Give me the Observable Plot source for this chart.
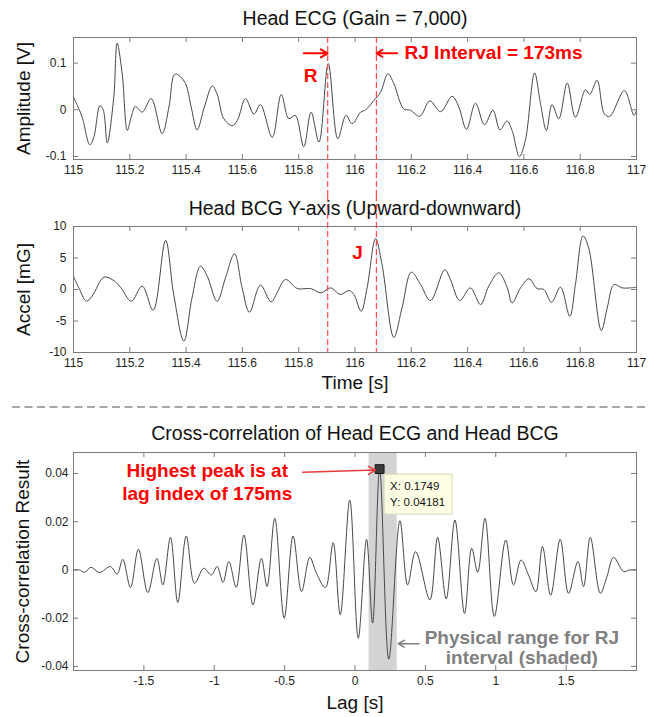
<!DOCTYPE html>
<html>
<head>
<meta charset="utf-8">
<script src="https://cdn.jsdelivr.net/npm/d3@7"></script>
<script src="https://cdn.jsdelivr.net/npm/@observablehq/plot@0.6"></script>
<style>
  html, body { margin: 0; padding: 0; background: #ffffff; }
  #chart { position: relative; width: 656px; height: 717px; overflow: hidden; background: #ffffff; }
  #chart > div { position: absolute; left: 0; }
</style>
</head>
<body>
<div id="chart"></div>
<script>
// ---------------- data ----------------
const ecgTime = [115.000,115.014,115.031,115.058,115.072,115.094,115.106,115.120,115.143,115.155,115.173,115.191,115.205,115.220,115.244,115.276,115.315,115.339,115.359,115.374,115.398,115.418,115.439,115.465,115.493,115.510,115.534,115.564,115.582,115.611,115.641,115.664,115.706,115.738,115.765,115.788,115.818,115.844,115.872,115.905,115.939,115.968,115.990,116.020,116.038,116.067,116.091,116.117,116.138,116.173,116.197,116.230,116.266,116.304,116.345,116.369,116.396,116.428,116.460,116.490,116.515,116.540,116.558,116.584,116.605,116.638,116.659,116.680,116.700,116.724,116.754,116.783,116.819,116.834,116.860,116.886,116.905,116.957,116.991,117.000];
const ecgAmplitude = [0.027,0.009,-0.016,-0.075,-0.059,0.009,-0.001,-0.071,0.027,0.143,0.077,-0.044,-0.016,0.007,-0.005,0.024,-0.051,0.006,0.076,0.074,0.056,0.006,-0.043,0.006,0.051,0.034,-0.019,-0.034,-0.023,0.024,-0.009,0.011,-0.059,0.033,-0.019,-0.012,-0.079,-0.005,-0.069,0.099,-0.062,-0.012,-0.030,-0.005,0.000,0.020,0.038,0.077,0.056,0.002,-0.001,-0.014,0.019,-0.004,0.029,0.006,-0.042,0.014,-0.032,-0.001,-0.043,-0.024,-0.044,-0.100,-0.066,0.079,0.013,-0.044,0.011,-0.019,0.057,-0.016,0.043,0.033,0.063,-0.009,-0.014,0.041,-0.012,-0.001];

const bcgTime = [115.000,115.019,115.046,115.066,115.108,115.137,115.167,115.205,115.244,115.283,115.327,115.356,115.392,115.421,115.451,115.475,115.510,115.540,115.572,115.599,115.625,115.664,115.702,115.723,115.753,115.795,115.842,115.880,115.913,115.948,115.979,115.996,116.022,116.043,116.073,116.096,116.138,116.167,116.200,116.233,116.268,116.319,116.339,116.372,116.410,116.446,116.475,116.511,116.541,116.558,116.588,116.618,116.647,116.671,116.698,116.730,116.763,116.783,116.810,116.830,116.875,116.896,116.920,116.949,116.979,117.000];
const bcgAccel = [2.1,0.26,-1.85,-1.06,1.96,1.59,0.37,-1.86,0.53,-3.29,7.8,-0.8,-8.2,-1.33,3.7,2.12,-1.86,1.86,5.67,0.26,-3.6,0.69,-1.97,-0.53,1.59,0.15,0.15,-0.53,0.26,-0.8,-0.16,-0.8,-3.45,0.26,8.1,3.97,-7.6,-2.92,2.75,0.79,-1.76,3.13,1.59,-1.76,0.26,-2.4,0.53,2.65,0.26,-2.13,0.26,1.7,0.15,0,-2.03,0.37,-4.25,0.79,8.5,6.63,-6.5,-2.92,0.79,0.26,0.26,0.37];

const lagSeconds = [-2.000,-1.958,-1.923,-1.875,-1.816,-1.738,-1.690,-1.650,-1.595,-1.539,-1.472,-1.408,-1.365,-1.311,-1.259,-1.199,-1.140,-1.074,-1.021,-0.979,-0.938,-0.896,-0.844,-0.789,-0.725,-0.665,-0.625,-0.570,-0.503,-0.440,-0.380,-0.321,-0.274,-0.210,-0.155,-0.105,-0.037,0.023,0.082,0.125,0.1749,0.240,0.319,0.374,0.431,0.532,0.587,0.648,0.710,0.778,0.829,0.872,0.924,0.990,1.071,1.126,1.180,1.232,1.285,1.332,1.390,1.458,1.517,1.584,1.624,1.672,1.743,1.790,1.837,1.909,1.950,2.000];
const xcorrResult = [0.0000,0.0000,-0.0010,0.0011,-0.0011,0.0014,-0.0017,0.0044,-0.0073,0.0086,-0.0094,0.0048,-0.0062,0.0135,-0.0135,0.0141,-0.0055,0.0007,-0.0021,0.0014,-0.0052,0.0035,-0.0072,0.0145,-0.0145,0.0048,-0.0069,0.0214,-0.0200,0.0141,-0.0090,0.0052,-0.0014,-0.0073,0.0113,-0.0186,0.0290,-0.0283,0.0127,-0.0220,0.04181,-0.0370,0.0204,-0.0062,0.0076,-0.0124,0.0135,-0.0120,0.0207,-0.0180,0.0090,-0.0010,0.0214,-0.0193,0.0124,-0.0062,0.0041,-0.0020,-0.0090,0.0097,-0.0105,0.0127,-0.0097,0.0035,-0.0069,0.0135,-0.0097,-0.0028,0.0052,-0.0007,0.0000,0.0000];

const rjTimes = [115.903, 116.076];          // R peak and J peak times [s]
const peakLag = 0.1749, peakValue = 0.04181; // highest cross-correlation peak
const rjPhysicalRange = [0.1, 0.3];           // shaded lag range [s]

const timeTicks = [115, 115.2, 115.4, 115.6, 115.8, 116, 116.2, 116.4, 116.6, 116.8, 117];
const timeTickLabels = ["115", "115.2", "115.4", "115.6", "115.8", "116", "116.2", "116.4", "116.6", "116.8", "117"];
const ampTicks = [-0.1, 0, 0.1];
const ampTickLabels = ["-0.1", "0", "0.1"];
const accelTicks = [-10, -5, 0, 5, 10];
const accelTickLabels = ["-10", "-5", "0", "5", "10"];
const lagTicks = [-1.5, -1, -0.5, 0, 0.5, 1, 1.5];
const lagTickLabels = ["-1.5", "-1", "-0.5", "0", "0.5", "1", "1.5"];
const xcorrTicks = [-0.04, -0.02, 0, 0.02, 0.04];
const xcorrTickLabels = ["-0.04", "-0.02", "0", "0.02", "0.04"];

// ---------------- styling ----------------
const FONT = '"Liberation Sans", Arial, Helvetica, sans-serif';
const W = 656, ML = 73, MR = 20;
const AX = "#7a7a7a";
const TRACE = "#474747";
const RED = "#ff0000";
const RED_DASH = "#ff4a4a";
const GRAY_TXT = "#808080";
const TITLE_SIZE = 19.5, LABEL_SIZE = 19;
const chart = document.getElementById("chart");

function makePanel(cfg) {
  const {top, height, mt, mb, xDomain, yDomain, xTicks, xLabels, yTicks, yLabels, xPad, yPad, under = [], over = []} = cfg;
  const fw = W - ML - MR, fh = height - mt - mb;
  const xFmt = new Map(xTicks.map((d, i) => [d, xLabels[i]]));
  const yFmt = new Map(yTicks.map((d, i) => [d, yLabels[i]]));
  const svg = Plot.plot({
    width: W, height,
    marginTop: mt, marginBottom: mb, marginLeft: ML, marginRight: MR,
    style: {background: "transparent", fontFamily: FONT, fontSize: "12px", color: "#1e1e1e", overflow: "visible"},
    x: {type: "linear", domain: xDomain},
    y: {type: "linear", domain: yDomain},
    marks: [
      ...under,
      Plot.frame({stroke: AX, strokeWidth: 1}),
      Plot.ruleX(xTicks, {x: d => d, stroke: AX, insetTop: fh - 5}),
      Plot.ruleX(xTicks, {x: d => d, stroke: AX, insetBottom: fh - 5}),
      Plot.ruleY(yTicks, {y: d => d, stroke: AX, insetRight: fw - 5}),
      Plot.ruleY(yTicks, {y: d => d, stroke: AX, insetLeft: fw - 5}),
      Plot.axisX({ticks: xTicks, tickFormat: d => xFmt.get(d), tickSize: 0, tickPadding: xPad, label: null, fontSize: 12}),
      Plot.axisY({ticks: yTicks, tickFormat: d => yFmt.get(d), tickSize: 0, tickPadding: yPad, label: null, fontSize: 12}),
      ...over
    ]
  });
  const holder = document.createElement("div");
  holder.style.top = top + "px";
  holder.appendChild(svg);
  chart.appendChild(holder);
}

const title = (s, dy) => Plot.text([s], {text: d => d, frameAnchor: "top", dy, textAnchor: "middle", lineAnchor: "middle", fontSize: TITLE_SIZE, fill: "#111"});
const yLabel = (s, dx) => Plot.text([s], {text: d => d, frameAnchor: "left", dx, rotate: -90, textAnchor: "middle", lineAnchor: "middle", fontSize: LABEL_SIZE, fill: "#111"});
const xLabel = (s, dy) => Plot.text([s], {text: d => d, frameAnchor: "bottom", dy, textAnchor: "middle", lineAnchor: "middle", fontSize: LABEL_SIZE, fill: "#111"});

// ---------------- Panel 1: Head ECG ----------------
makePanel({
  top: 0, height: 195, mt: 37, mb: 36,
  xDomain: [115, 117], yDomain: [-0.1064, 0.1548],
  xTicks: timeTicks, xLabels: timeTickLabels, yTicks: ampTicks, yLabels: ampTickLabels,
  xPad: 6, yPad: 7,
  under: [
    Plot.line(ecgTime, {x: ecgTime, y: ecgAmplitude, stroke: TRACE, strokeWidth: 1, curve: "catmull-rom"})
  ],
  over: [
    Plot.ruleX(rjTimes, {x: d => d, stroke: RED_DASH, strokeWidth: 1.2, strokeDasharray: "6,3", insetBottom: -36}),
    Plot.arrow([0], {x1: [115.818], x2: [rjTimes[0]], y1: [0.121], y2: [0.121], stroke: RED, strokeWidth: 2, headLength: 8}),
    Plot.arrow([0], {x1: [116.150], x2: [rjTimes[1]], y1: [0.121], y2: [0.121], stroke: RED, strokeWidth: 2, headLength: 8}),
    Plot.text(["RJ Interval = 173ms"], {text: d => d, x: [116.176], y: [0.121], textAnchor: "start", fontSize: 19, fontWeight: "bold", fill: RED}),
    Plot.text(["R"], {text: d => d, x: [115.842], y: [0.072], fontSize: 19, fontWeight: "bold", fill: RED}),
    title("Head ECG (Gain = 7,000)", -19),
    yLabel("Amplitude [V]", -50)
  ]
});

// ---------------- Panel 2: Head BCG ----------------
makePanel({
  top: 195, height: 200, mt: 31, mb: 43,
  xDomain: [115, 117], yDomain: [-10, 10],
  xTicks: timeTicks, xLabels: timeTickLabels, yTicks: accelTicks, yLabels: accelTickLabels,
  xPad: 6, yPad: 7,
  under: [
    Plot.line(bcgTime, {x: bcgTime, y: bcgAccel, stroke: TRACE, strokeWidth: 1, curve: "catmull-rom"})
  ],
  over: [
    title("Head BCG Y-axis (Upward-downward)", -18),
    Plot.ruleX(rjTimes, {x: d => d, stroke: RED_DASH, strokeWidth: 1.2, strokeDasharray: "6,3", insetTop: -31}),
    Plot.text(["J"], {text: d => d, x: [116.009], y: [5.8], fontSize: 19, fontWeight: "bold", fill: RED}),
    yLabel("Accel [mG]", -50),
    xLabel("Time [s]", 30)
  ]
});

// ---------------- Panel 3: Cross-correlation ----------------
makePanel({
  top: 395, height: 322, mt: 57, mb: 47,
  xDomain: [-2, 2], yDomain: [-0.0417, 0.0487],
  xTicks: lagTicks, xLabels: lagTickLabels, yTicks: xcorrTicks, yLabels: xcorrTickLabels,
  xPad: 6, yPad: 5,
  under: [
    Plot.rect([rjPhysicalRange], {x1: d => d[0], x2: d => d[1], fill: "#d3d3d3"}),
    Plot.line(lagSeconds, {x: lagSeconds, y: xcorrResult, stroke: TRACE, strokeWidth: 1, curve: "catmull-rom"})
  ],
  over: [
    // dashed separator between the upper panels and this one
    (index, scales, values, dim) => {
      const g = d3.create("svg:g");
      g.append("line").attr("x1", 12).attr("x2", 645).attr("y1", 12).attr("y2", 12)
        .attr("stroke", "#8a8a8a").attr("stroke-width", 1.4).attr("stroke-dasharray", "8,4.5");
      return g.node();
    },
    title("Cross-correlation of Head ECG and Head BCG", -19),
    Plot.dot([0], {x: [peakLag], y: [peakValue], symbol: "square", r: 5, fill: "#3a3a3a", stroke: "#111", strokeWidth: 1}),
    // data tip box
    (index, {x, y}) => {
      const px = x(peakLag), py = y(peakValue);
      const g = d3.create("svg:g").attr("font-family", FONT).attr("font-size", 11.5).attr("text-anchor", "start");
      g.append("rect").attr("x", px + 5).attr("y", py + 5.5).attr("width", 68).attr("height", 40)
        .attr("fill", "#ffffe3").attr("fill-opacity", 0.92).attr("stroke", "#d9d9b5");
      g.append("text").attr("x", px + 11).attr("y", py + 21).attr("text-anchor", "start").attr("fill", "#111").text("X: 0.1749");
      g.append("text").attr("x", px + 11).attr("y", py + 37).attr("text-anchor", "start").attr("fill", "#111").text("Y: 0.04181");
      return g.node();
    },
    Plot.arrow([0], {x1: [-0.372], y1: [0.0405], x2: [0.145], y2: [0.0414], stroke: "#e63b3b", strokeWidth: 1.5, headLength: 8}),
    Plot.text(["Highest peak is at\nlag index of 175ms"], {text: d => d, x: [-1.05], y: [0.0367], fontSize: 19, fontWeight: "bold", fill: RED, lineHeight: 1.2}),
    Plot.arrow([0], {x1: [0.454], y1: [-0.0306], x2: [0.307], y2: [-0.0306], stroke: "#808080", strokeWidth: 1.5, headLength: 7}),
    Plot.text(["Physical range for RJ\ninterval (shaded)"], {text: d => d, x: [1.185], y: [-0.0323], fontSize: 19, fontWeight: "bold", fill: GRAY_TXT, lineHeight: 1.05}),
    yLabel("Cross-correlation Result", -51),
    xLabel("Lag [s]", 32)
  ]
});
</script>
</body>
</html>
